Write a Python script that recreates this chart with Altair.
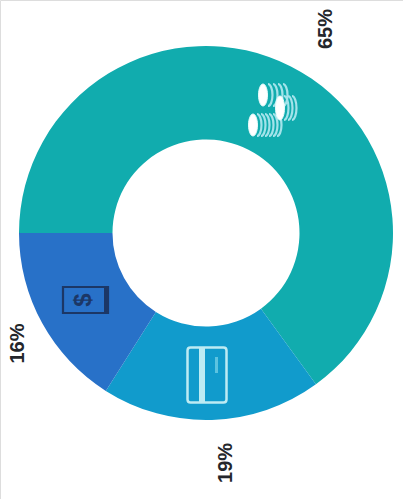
import math
import altair as alt
import pandas as pd

# Payment mix
categories = ["Coins", "Card", "Cash"]
shares = [65, 19, 16]
colors = ["#11ACAE", "#119BCC", "#2871C8"]
labels = ["65%", "19%", "16%"]

source = pd.DataFrame({"category": categories, "share": shares, "label": labels})

START = 3 * math.pi / 2
theta_scale = alt.Scale(domain=[0, 100], range=[START, START + 2 * math.pi])
CX, CY = 206, 233

base = alt.Chart(source)

ring = base.mark_arc(radius=187, innerRadius=93.5, stroke=None).encode(
    x=alt.value(CX),
    y=alt.value(CY),
    theta=alt.Theta("share:Q", stack=True, scale=theta_scale),
    order=alt.Order("position:Q"),
    color=alt.Color("category:N", scale=alt.Scale(domain=categories, range=colors), legend=None),
).transform_window(position="row_number()")

# Percentage labels sit outside the ring; the text is rotated, so dx runs up the page
# and dy runs to the right
nudges = {"Coins": (-1, 15.5, 230), "Card": (0, 13, 230), "Cash": (-7, 0, 215)}
label_layers = []
for name, (dx, dy, radius) in nudges.items():
    label_layers.append(
        base.transform_window(running="sum(share)")
        .transform_calculate(mid="datum.running - datum.share / 2")
        .transform_filter(alt.datum.category == name)
        .mark_text(
            font="Liberation Sans", fontWeight="bold", fontSize=20, angle=270,
            color="#24262B", dx=dx, dy=dy, radius=radius, baseline="middle", align="center",
        )
        .encode(
            x=alt.value(CX),
            y=alt.value(CY),
            theta=alt.Theta("mid:Q", stack=None, scale=theta_scale),
            text="label:N",
        )
    )


def ellipse(cx, cy, rx, ry, box):
    k = 2 / box
    return (
        f"M{(cx - rx) * k},{cy * k}"
        f"A{rx * k},{ry * k} 0 1 1 {(cx + rx) * k},{cy * k}"
        f"A{rx * k},{ry * k} 0 1 1 {(cx - rx) * k},{cy * k}Z"
    )


def rect(x0, y0, x1, y1, box, r=0):
    k = 2 / box
    x0, y0, x1, y1, r = x0 * k, y0 * k, x1 * k, y1 * k, r * k
    return (
        f"M{x0 + r},{y0}L{x1 - r},{y0}Q{x1},{y0} {x1},{y0 + r}"
        f"L{x1},{y1 - r}Q{x1},{y1} {x1 - r},{y1}"
        f"L{x0 + r},{y1}Q{x0},{y1} {x0},{y1 - r}"
        f"L{x0},{y0 + r}Q{x0},{y0} {x0 + r},{y0}Z"
    )


def arc_stripe(cx, cy, ry, box):
    k = 2 / box
    return f"M{cx * k},{(cy - ry) * k}A{4.5 * k},{ry * k} 0 0 1 {cx * k},{(cy + ry) * k}"


def icon(path, x, y, box, **style):
    return alt.Chart(source.head(1)).mark_point(shape=path, size=box * box, opacity=1, **style).encode(
        x=alt.value(x), y=alt.value(y)
    )


# Coin stacks: each stack is a bright face followed by curved edges
BOX = 70
stacks = [(-7, -15, 11), (10, -2, 12), (-17, 15, 11)]
faces = "".join(ellipse(cx, cy, 4.5, ry, BOX) for cx, cy, ry in stacks)
edges = "".join(
    arc_stripe(cx + step, cy, ry, BOX)
    for (cx, cy, ry), steps in zip(stacks, [(5, 10, 15, 20), (4, 8, 12), (4, 8, 12, 16, 20, 24)])
    for step in steps
)
coin_edges = icon(edges, 270, 110, BOX, filled=False, stroke="#A3E3EA", strokeWidth=2.2)
coin_faces = icon(faces, 270, 110, BOX, filled=True, fill="#FFFFFF", stroke="#E4FBFB", strokeWidth=1)

# Bank card outline with its magnetic band and signature line
card_box = icon(rect(-19.5, -27.5, 19.5, 27.5, BOX, r=3), 207, 375, BOX,
                filled=False, stroke="#BDEBF3", strokeWidth=2.5)
card_band = icon(rect(-8, -27, -2, 27, BOX), 207, 375, BOX,
                 filled=True, fill="#BDEBF3", strokeWidth=0)
card_sign = icon(rect(8, -18, 11, -2, BOX), 207, 375, BOX,
                 filled=True, fill="#5CC3E0", strokeWidth=0)

# Banknote outline with a currency sign
note_box = icon(rect(-22.5, -13, 22.5, 13, BOX), 85.5, 300, BOX,
                filled=False, stroke="#1C3766", strokeWidth=2.2)
note_edge = icon(rect(18.5, -13, 22.5, 13, BOX), 85.5, 300, BOX,
                 filled=True, fill="#1C3766", strokeWidth=0)
note_sign = alt.Chart(pd.DataFrame({"sign": ["$"]})).mark_text(
    font="Liberation Sans", fontWeight="bold", fontSize=24, angle=270, color="#1C3766",
    baseline="middle", align="center",
).encode(x=alt.value(84), y=alt.value(300), text="sign:N")

chart = (
    alt.layer(
        ring, *label_layers, coin_edges, coin_faces,
        card_box, card_band, card_sign, note_box, note_edge, note_sign,
    )
    .properties(width=403, height=499, padding=0, autosize=alt.AutoSizeParams(type="none"))
    .configure_view(stroke=None)
    .configure(background="#FFFFFF")
)

chart.save("out.html", embed_options={"renderer": "svg", "actions": False})
